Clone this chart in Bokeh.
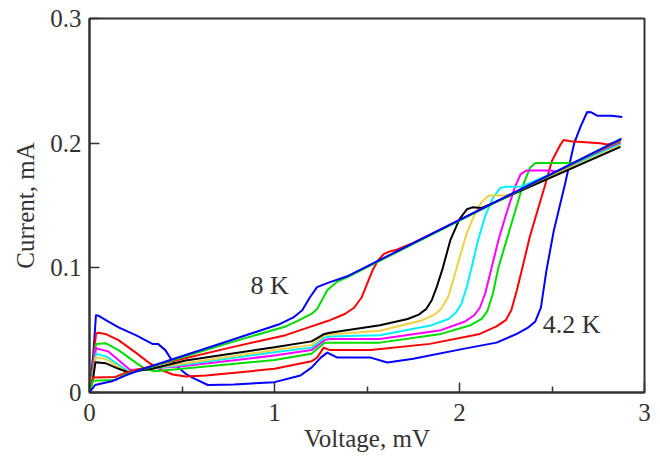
from bokeh.plotting import figure
from bokeh.models import Range1d, FixedTicker, Label
from bokeh.embed import file_html
from bokeh.resources import INLINE

# ---- data (Voltage, mV ; Current, mA) ----
x_ticks = [0, 1, 2, 3]
x_minor = [0.5, 1.5, 2.5]
x_tick_labels = ["0", "1", "2", "3"]
y_ticks = [0, 0.1, 0.2, 0.3]
y_tick_labels = ["0", "0.1", "0.2", "0.3"]

# 4.2 K (blue)
v1 = [0, 0.02, 0.035, 0.05, 0.1, 0.16, 0.25, 0.34, 0.37, 0.41, 0.44, 0.48, 0.52, 0.57, 0.64, 0.78, 1.0, 1.14, 1.2, 1.25, 1.285, 1.34, 1.52, 1.61, 1.75, 2.02, 2.2, 2.31, 2.37, 2.41, 2.44, 2.47, 2.51, 2.57, 2.62, 2.654, 2.69, 2.71, 2.744, 2.82, 2.88]
i1 = [0, 0.03, 0.062, 0.0615, 0.057, 0.052, 0.046, 0.039, 0.039, 0.034, 0.027, 0.02, 0.015, 0.011, 0.006, 0.0064, 0.0083, 0.0136, 0.02, 0.028, 0.032, 0.028, 0.028, 0.024, 0.027, 0.035, 0.04, 0.047, 0.052, 0.057, 0.068, 0.098, 0.13, 0.167, 0.2, 0.213, 0.225, 0.2248, 0.222, 0.222, 0.221]
# red (low)
v2 = [0, 0.02, 0.035, 0.047, 0.086, 0.157, 0.25, 0.32, 0.39, 0.45, 0.52, 0.63, 1.0, 1.2, 1.23, 1.266, 1.3, 1.52, 1.84, 2.11, 2.2, 2.25, 2.28, 2.31, 2.34, 2.38, 2.42, 2.46, 2.5, 2.546, 2.564, 2.6, 2.76, 2.8, 2.87]
i2 = [0, 0.025, 0.047, 0.048, 0.047, 0.042, 0.032, 0.024, 0.018, 0.0144, 0.0128, 0.0136, 0.019, 0.025, 0.028, 0.036, 0.034, 0.034, 0.039, 0.047, 0.053, 0.058, 0.066, 0.082, 0.1, 0.125, 0.145, 0.165, 0.186, 0.199, 0.2026, 0.2016, 0.2, 0.199, 0.2015]
# green (low)
v3 = [0, 0.02, 0.035, 0.086, 0.157, 0.25, 0.3, 0.35, 0.5, 1.0, 1.2, 1.27, 1.3, 1.57, 1.9, 2.06, 2.12, 2.15, 2.18, 2.21, 2.25, 2.29, 2.34, 2.38, 2.41, 2.6, 2.63, 2.87]
i3 = [0, 0.02, 0.039, 0.0396, 0.034, 0.024, 0.019, 0.017, 0.019, 0.026, 0.031, 0.04, 0.04, 0.04, 0.047, 0.054, 0.059, 0.065, 0.079, 0.1, 0.12, 0.14, 0.165, 0.18, 0.184, 0.184, 0.184, 0.201]
# magenta
v4 = [0, 0.02, 0.035, 0.1, 0.22, 0.5, 1.0, 1.2, 1.27, 1.3, 1.57, 1.9, 2.03, 2.08, 2.11, 2.14, 2.17, 2.21, 2.25, 2.3, 2.33, 2.36, 2.49, 2.53, 2.87]
i4 = [0, 0.018, 0.0355, 0.033, 0.018, 0.021, 0.0297, 0.034, 0.042, 0.043, 0.043, 0.05, 0.057, 0.062, 0.068, 0.08, 0.098, 0.122, 0.142, 0.165, 0.175, 0.178, 0.178, 0.177, 0.2]
# cyan
v5 = [0, 0.02, 0.035, 0.09, 0.21, 0.5, 1.0, 1.2, 1.27, 1.3, 1.57, 1.85, 1.94, 1.98, 2.01, 2.04, 2.07, 2.1, 2.14, 2.18, 2.22, 2.25, 2.33, 2.87]
i5 = [0, 0.016, 0.031, 0.029, 0.017, 0.022, 0.0323, 0.036, 0.044, 0.045, 0.046, 0.054, 0.059, 0.064, 0.071, 0.085, 0.103, 0.122, 0.142, 0.156, 0.164, 0.165, 0.165, 0.199]
# gold
v6 = [0, 0.02, 0.033, 0.086, 0.2, 0.5, 1.0, 1.2, 1.27, 1.3, 1.57, 1.8, 1.86, 1.9, 1.94, 1.97, 2.0, 2.04, 2.08, 2.12, 2.16, 2.24, 2.28, 2.87]
i6 = [0, 0.014, 0.028, 0.027, 0.0165, 0.023, 0.034, 0.038, 0.046, 0.0465, 0.0495, 0.058, 0.062, 0.067, 0.077, 0.092, 0.108, 0.128, 0.142, 0.153, 0.158, 0.158, 0.159, 0.198]
# black
v7 = [0, 0.02, 0.032, 0.086, 0.157, 0.21, 0.339, 0.519, 1.0, 1.2, 1.27, 1.3, 1.57, 1.72, 1.78, 1.82, 1.85, 1.88, 1.91, 1.95, 2.0, 2.04, 2.07, 2.12, 2.87]
i7 = [0, 0.012, 0.0243, 0.0235, 0.019, 0.0163, 0.019, 0.0257, 0.0363, 0.041, 0.047, 0.048, 0.054, 0.059, 0.0625, 0.067, 0.074, 0.086, 0.1, 0.122, 0.139, 0.147, 0.1485, 0.148, 0.197]
# red (upper)
v8 = [0, 0.02, 0.14, 0.2, 0.25, 0.76, 1.06, 1.2, 1.3, 1.38, 1.43, 1.47, 1.5, 1.53, 1.56, 1.59, 1.62, 1.66, 1.75, 2.87]
i8 = [0, 0.012, 0.0125, 0.016, 0.018, 0.036, 0.046, 0.053, 0.058, 0.063, 0.068, 0.076, 0.087, 0.098, 0.106, 0.111, 0.113, 0.1145, 0.12, 0.2025]
# green (upper)
v9 = [0, 0.02, 0.14, 0.18, 0.23, 0.3, 0.76, 1.06, 1.12, 1.2, 1.23, 1.26, 1.285, 1.34, 1.4, 2.87]
i9 = [0, 0.0095, 0.01, 0.0136, 0.016, 0.019, 0.04, 0.053, 0.057, 0.063, 0.067, 0.075, 0.082, 0.089, 0.093, 0.203]
# 8 K (blue)
v10 = [0, 0.03, 0.12, 0.2, 0.3, 0.76, 1.03, 1.1, 1.15, 1.19, 1.23, 1.3, 1.39, 2.876]
i10 = [0, 0.006, 0.009, 0.014, 0.0195, 0.0417, 0.055, 0.06, 0.066, 0.076, 0.0845, 0.0885, 0.093, 0.2037]

curves = [(v1, i1, "#0000FF"), (v2, i2, "#FF0000"), (v3, i3, "#00DD00"),
          (v4, i4, "#FF00FF"), (v5, i5, "#00F0FF"), (v6, i6, "#F0D040"),
          (v7, i7, "#000000"), (v8, i8, "#FF0000"), (v9, i9, "#00DD00"),
          (v10, i10, "#0000FF")]

FONT = "Liberation Serif"
TXT = "#333333"

p = figure(width=660, height=459, x_range=Range1d(0, 3), y_range=Range1d(0, 0.3),
           output_backend="svg", toolbar_location=None,
           min_border_left=89, min_border_right=16, min_border_top=18, min_border_bottom=67)
p.grid.visible = False
p.background_fill_color = "white"
p.border_fill_color = "white"
p.outline_line_color = TXT
p.outline_line_width = 2

for v, i, c in curves:
    p.line(v, i, line_color=c, line_width=2, line_join="round")

p.xaxis.ticker = FixedTicker(ticks=x_ticks, minor_ticks=x_minor)
p.xaxis.major_label_overrides = dict(zip(x_ticks, x_tick_labels))
p.yaxis.ticker = FixedTicker(ticks=y_ticks, minor_ticks=[])
p.yaxis.major_label_overrides = dict(zip(y_ticks, y_tick_labels))

for ax in (p.xaxis, p.yaxis):
    ax.axis_line_color = TXT
    ax.axis_line_width = 2
    ax.major_tick_line_color = TXT
    ax.minor_tick_line_color = TXT
    ax.major_tick_line_width = 1.5
    ax.minor_tick_line_width = 1.5
    ax.major_tick_in = 10
    ax.major_tick_out = 0
    ax.minor_tick_in = 6
    ax.minor_tick_out = 0
    ax.major_label_text_font = FONT
    ax.major_label_text_font_size = "25px"
    ax.major_label_text_color = TXT
    ax.axis_label_text_font = FONT
    ax.axis_label_text_font_size = "25px"
    ax.axis_label_text_font_style = "normal"
    ax.axis_label_text_color = TXT

p.xaxis.axis_label = "Voltage, mV"
p.yaxis.axis_label = "Current, mA"
p.xaxis.major_label_standoff = 11
p.xaxis.axis_label_standoff = 1
p.yaxis.major_label_standoff = 8
p.yaxis.axis_label_standoff = 8

p.add_layout(Label(x=0.87, y=0.0858, text="8 K", text_font=FONT, text_font_size="26px",
                   text_color=TXT, text_baseline="middle", text_align="left"))
p.add_layout(Label(x=2.45, y=0.0545, text="4.2 K", text_font=FONT, text_font_size="26px",
                   text_color=TXT, text_baseline="middle", text_align="left"))

open("out.html", "w").write(file_html(p, INLINE))
